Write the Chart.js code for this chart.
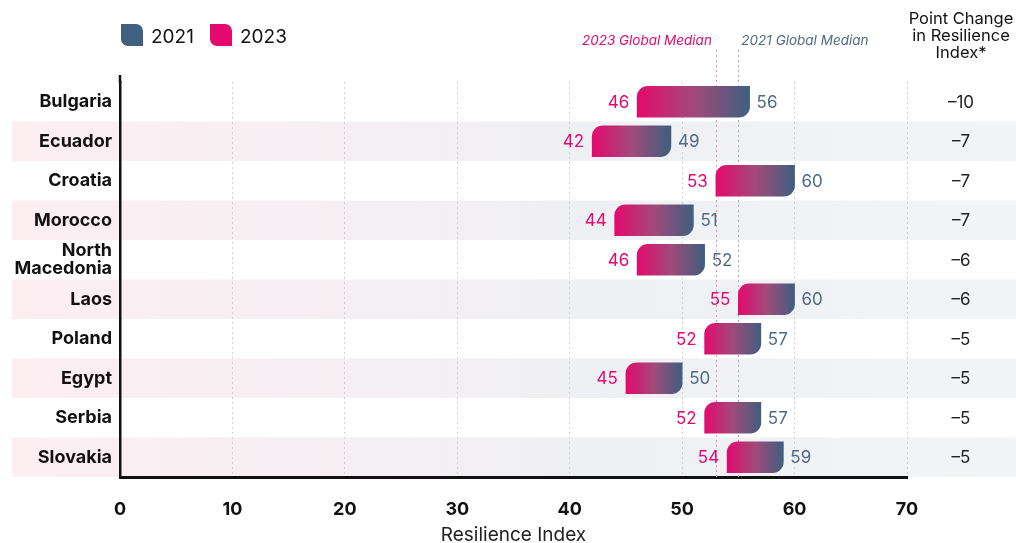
<!DOCTYPE html>
<html>
<head>
<meta charset="utf-8">
<script src="https://cdn.jsdelivr.net/npm/chart.js@4.4.1/dist/chart.umd.min.js"></script>
<style>
html,body{margin:0;padding:0;background:#fff;}
#wrap{width:1016px;height:543px;position:relative;}
</style>
</head>
<body>
<div id="wrap"><canvas id="c" width="1016" height="543"></canvas></div>
<script>
const countries = ['Bulgaria','Ecuador','Croatia','Morocco',['North','Macedonia'],'Laos','Poland','Egypt','Serbia','Slovakia'];
const values2021 = [56,49,60,51,52,60,57,50,57,59];
const values2023 = [46,42,53,44,46,55,52,45,52,54];
const pointChange = ['–10','–7','–7','–7','–6','–6','–5','–5','–5','–5'];
const xTicks = [0,10,20,30,40,50,60,70];
const median2023 = 53;
const median2021 = 55;

const PINK = '#E3096E';
const SLATE = '#41607F';
const FONT = 'Inter, "Noto Sans", sans-serif';

const decor = {
  id: 'decor',
  beforeDraw(chart) {
    const {ctx, chartArea, scales} = chart;
    const y = scales.y;
    const step = Math.abs(y.getPixelForValue(1) - y.getPixelForValue(0));
    ctx.save();
    countries.forEach((c, i) => {
      if (i % 2 === 1) {
        const cy = y.getPixelForValue(i);
        const g = ctx.createLinearGradient(12, 0, 1016, 0);
        g.addColorStop(0, '#fdeef2');
        g.addColorStop(0.6, '#eef0f3');
        g.addColorStop(1, '#f3f4f6');
        ctx.fillStyle = g;
        ctx.fillRect(12, cy - step / 2, 1004, step);
      }
    });
    ctx.restore();
  },
  beforeDatasetsDraw(chart) {
    const {ctx, chartArea, scales} = chart;
    const x = scales.x;
    ctx.save();
    ctx.lineWidth = 1;
    ctx.setLineDash([2, 3]);
    [[median2023, '#ea8db4'], [median2021, '#a4afbd']].forEach(([m, col]) => {
      const px = Math.round(x.getPixelForValue(m)) + 0.5;
      ctx.strokeStyle = col;
      ctx.beginPath();
      ctx.moveTo(px, 50);
      ctx.lineTo(px, chartArea.bottom);
      ctx.stroke();
    });
    ctx.setLineDash([]);
    // extend y axis line upward
    ctx.strokeStyle = '#111';
    ctx.lineWidth = 2.5;
    ctx.beginPath();
    ctx.moveTo(chartArea.left, 75);
    ctx.lineTo(chartArea.left, chartArea.top + 1);
    ctx.stroke();
    ctx.font = 'italic 13.5px ' + FONT;
    ctx.textBaseline = 'middle';
    ctx.fillStyle = PINK;
    ctx.textAlign = 'right';
    ctx.fillText('2023 Global Median', x.getPixelForValue(median2023) - 4, 41);
    ctx.fillStyle = '#4F6A86';
    ctx.textAlign = 'left';
    ctx.fillText('2021 Global Median', x.getPixelForValue(median2021) + 3, 41);
    ctx.restore();
  },
  afterDatasetsDraw(chart) {
    const {ctx, scales} = chart;
    const x = scales.x, y = scales.y;
    ctx.save();
    ctx.font = '17px ' + FONT;
    ctx.textBaseline = 'middle';
    countries.forEach((c, i) => {
      const cy = y.getPixelForValue(i);
      ctx.fillStyle = PINK;
      ctx.textAlign = 'right';
      ctx.fillText(String(values2023[i]), x.getPixelForValue(values2023[i]) - 8, cy + 1);
      ctx.fillStyle = '#4F6A86';
      ctx.textAlign = 'left';
      ctx.fillText(String(values2021[i]), x.getPixelForValue(values2021[i]) + 7, cy + 1);
      ctx.fillStyle = '#222';
      ctx.textAlign = 'center';
      ctx.fillText(pointChange[i], 961, cy + 1);
    });
    // header
    ctx.font = '16.5px ' + FONT;
    ctx.fillStyle = '#111';
    ctx.textAlign = 'center';
    ['Point Change', 'in Resilience', 'Index*'].forEach((t, k) => ctx.fillText(t, 961, 19 + k * 17));
    // legend
    const icon = (x0, col) => {
      ctx.fillStyle = col;
      ctx.beginPath();
      ctx.roundRect(x0, 24, 22, 22, [0, 7, 0, 7]);
      ctx.fill();
    };
    icon(121, SLATE);
    icon(210, PINK);
    ctx.font = '19px ' + FONT;
    ctx.fillStyle = '#111';
    ctx.textAlign = 'left';
    ctx.fillText('2021', 151, 37);
    ctx.fillText('2023', 240, 37);
    ctx.restore();
  }
};

new Chart(document.getElementById('c'), {
  type: 'bar',
  data: {
    labels: countries,
    datasets: [{
      label: 'Change',
      data: values2023.map((v, i) => [v, values2021[i]]),
      barThickness: 31,
      borderSkipped: false,
      borderWidth: 0,
      borderRadius: {topLeft: 11, topRight: 0, bottomLeft: 0, bottomRight: 11},
      backgroundColor(context) {
        const chart = context.chart;
        if (!chart.chartArea || !context.raw) return PINK;
        const x = chart.scales.x;
        const x0 = x.getPixelForValue(context.raw[0]);
        const x1 = x.getPixelForValue(context.raw[1]);
        const g = chart.ctx.createLinearGradient(x0, 0, x1, 0);
        g.addColorStop(0, '#E40A6E');
        g.addColorStop(0.5, '#A14A7A');
        g.addColorStop(1, '#3F5F7F');
        return g;
      }
    }]
  },
  options: {
    indexAxis: 'y',
    responsive: false,
    animation: false,
    layout: {padding: {top: 82, right: 109, left: 0, bottom: 0}},
    plugins: {legend: {display: false}, tooltip: {enabled: false}},
    scales: {
      x: {
        min: 0, max: 70,
        afterBuildTicks(scale) { scale.ticks = xTicks.map(v => ({value: v})); },
        afterFit(scale) { scale.height = 66; },
        grid: {color: '#d2d2d2', lineWidth: 1, drawTicks: false, tickLength: 0},
        border: {display: true, color: '#111', width: 3, dash: [2, 3], dashOffset: 0},
        ticks: {padding: 22, color: '#111', autoSkip: false, maxRotation: 0, font: {family: FONT, size: 18, weight: 'bold'}},
        title: {display: true, text: 'Resilience Index', color: '#222', padding: {top: 0, bottom: -4}, font: {family: FONT, size: 19}}
      },
      y: {
        afterFit(scale) { scale.width = 120; },
        grid: {display: false, drawTicks: false},
        border: {display: true, color: '#111', width: 2.5},
        ticks: {padding: 8, color: '#111', autoSkip: false, font: {family: FONT, size: 18, weight: 'bold', lineHeight: 1.0}}
      }
    }
  },
  plugins: [decor]
});
</script>
</body>
</html>
